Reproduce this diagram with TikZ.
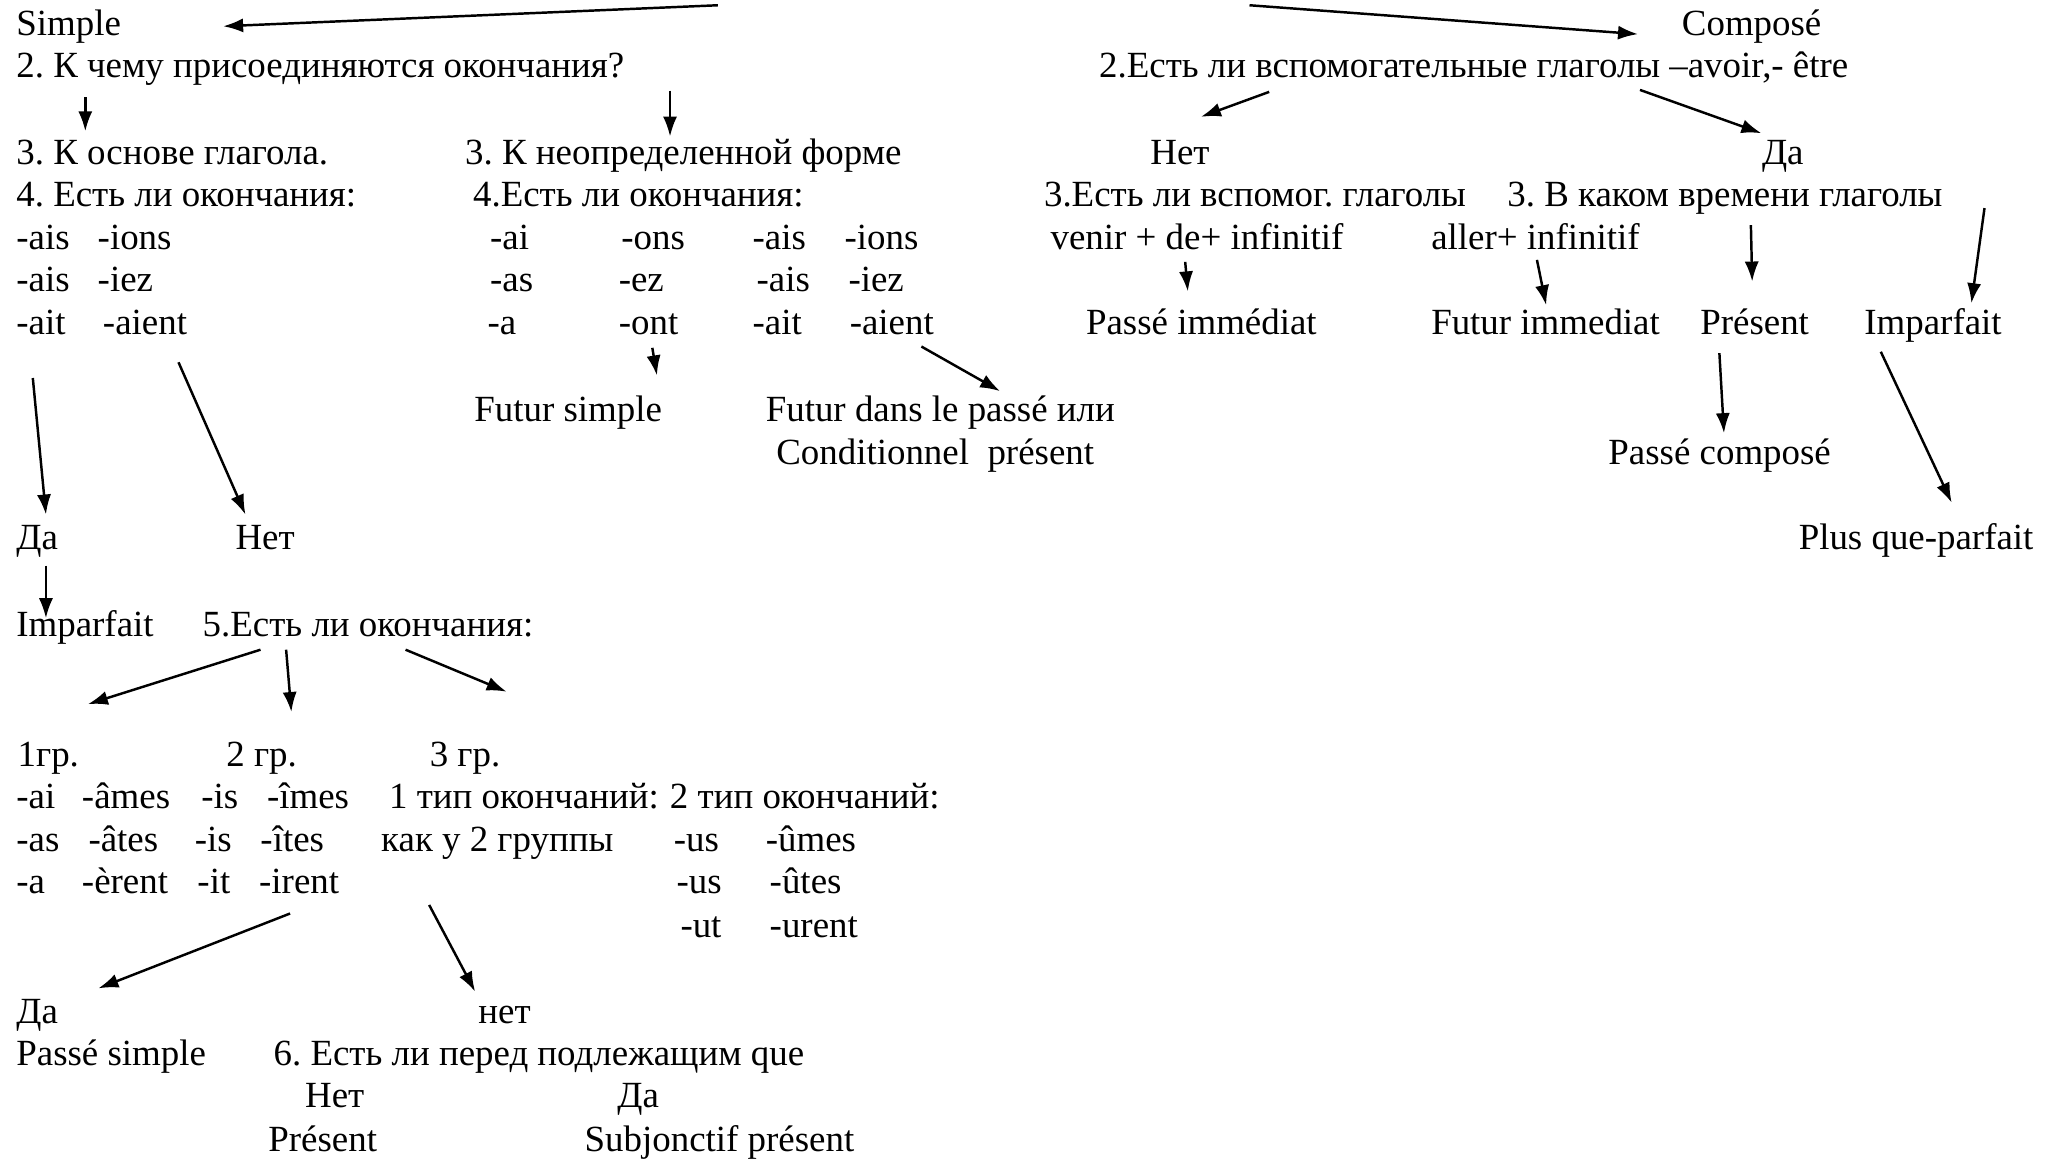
\documentclass[tikz,border=0pt]{standalone}
\usepackage{fontspec}
\setmainfont{Liberation Serif}
\usetikzlibrary{arrows, arrows.meta, calc, positioning}
\frenchspacing

\begin{document}
\begin{tikzpicture}[>={Latex[length=6.5pt,width=4.6pt]}, x=0.15mm, y=-0.15mm, font=\fontsize{12}{14}\selectfont,
    link/.style={->, line width=0.8pt}]

    \useasboundingbox (0,0) rectangle (1568,884);

    \coordinate (titleL) at (547,4);
    \coordinate (titleR) at (952,4);

    \begin{scope}[every node/.style={anchor=base west, inner sep=0pt}]
        \node (simple) at (12,27) {Simple};
        \node (join) at (12,59) {2. К чему присоединяются окончания?};
        \node (stem) at (12,125) {3. К основе глагола.};
        \node (infin) at (354,125) {3. К неопределенной форме};
        \node (endA) at (12,157) {4. Есть ли окончания:};
        \node (endB) at (360,157) {4.Есть ли окончания:};

        \node (ip11) at (12,190) {-ais};
        \node (ip12) at (74,190) {-ions};
        \node (ip21) at (12,222) {-ais};
        \node (ip22) at (74,222) {-iez};
        \node (ip31) at (12,255) {-ait};
        \node (ip32) at (78,255) {-aient};

        \node (fu11) at (373,190) {-ai};
        \node (fu12) at (473,190) {-ons};
        \node (fu13) at (573,190) {-ais};
        \node (fu14) at (643,190) {-ions};
        \node (fu21) at (373,222) {-as};
        \node (fu22) at (471,222) {-ez};
        \node (fu23) at (576,222) {-ais};
        \node (fu24) at (646,222) {-iez};
        \node (fu31) at (371,255) {-a};
        \node (fu32) at (471,255) {-ont};
        \node (fu33) at (573,255) {-ait};
        \node (fu34) at (647,255) {-aient};

        \node (futs) at (361,321) {Futur simple};
        \node (futp) at (583,321) {Futur dans le passé или};
        \node (cond) at (591,354) {Conditionnel\ \ présent};

        \node (yesA) at (12,419) {Да};
        \node (noA) at (179,419) {Нет};
        \node (impA) at (12,485) {Imparfait};
        \node (q5) at (154,485) {5.Есть ли окончания:};
        \node (gr1) at (13,584) {1гр.};
        \node (gr2) at (172,584) {2 гр.};
        \node (gr3) at (327,584) {3 гр.};

        \node (ps11) at (12,616) {-ai};
        \node (ps12) at (62,616) {-âmes};
        \node (ps13) at (153,616) {-is};
        \node (ps14) at (203,616) {-îmes};
        \node (typ1) at (296,616) {1 тип окончаний:};
        \node (typ2) at (510,616) {2 тип окончаний:};
        \node (ps21) at (12,649) {-as};
        \node (ps22) at (67,649) {-âtes};
        \node (ps23) at (148,649) {-is};
        \node (ps24) at (198,649) {-îtes};
        \node (like2) at (290,649) {как у 2 группы};
        \node (ty21) at (513,649) {-us};
        \node (ty22) at (583,649) {-ûmes};
        \node (ps31) at (12,681) {-a};
        \node (ps32) at (62,681) {-èrent};
        \node (ps33) at (150,681) {-it};
        \node (ps34) at (197,681) {-irent};
        \node (ty31) at (515,681) {-us};
        \node (ty32) at (586,681) {-ûtes};
        \node (ty41) at (518,714) {-ut};
        \node (ty42) at (586,714) {-urent};

        \node (yesB) at (12,780) {Да};
        \node (noB) at (364,780) {нет};
        \node (psimple) at (12,812) {Passé simple};
        \node (q6) at (208,812) {6. Есть ли перед подлежащим que};
        \node (noC) at (232,844) {Нет};
        \node (yesC) at (470,844) {Да};
        \node (presA) at (204,877) {Présent};
        \node (subj) at (445,877) {Subjonctif présent};

        \node (compose) at (1281,27) {Composé};
        \node (aux) at (837,59) {2.Есть ли вспомогательные глаголы –avoir,- être};
        \node (noR) at (876,125) {Нет};
        \node (yesR) at (1342,125) {Да};
        \node (auxB) at (795,157) {3.Есть ли вспомог. глаголы};
        \node (tense) at (1148,157) {3. В каком времени глаголы};
        \node (venir) at (800,190) {venir + de+ infinitif};
        \node (aller) at (1090,190) {aller+ infinitif};
        \node (pim) at (827,255) {Passé immédiat};
        \node (fim) at (1090,255) {Futur immediat};
        \node (presR) at (1295,255) {Présent};
        \node (impR) at (1420,255) {Imparfait};
        \node (pcomp) at (1225,354) {Passé composé};
        \node (pqp) at (1370,419) {Plus que-parfait};
    \end{scope}

    \draw[link] (titleL) -- ([shift={(158,-7)}] simple.base west);
    \draw[link] (titleR) -- ([shift={(-33,-1)}] compose.base west);

    \draw[link] ([shift={(53,15)}] join.base west) -- ([shift={(53,-25)}] stem.base west);
    \draw[link] ([shift={(498.5,10)}] join.base west) -- ([shift={(156.5,-21)}] infin.base west);
    \draw[link] ([shift={(26,10)}] fu32.base west) -- ([shift={(139.5,-35)}] futs.base west);
    \draw[link] ([shift={(55,9)}] fu34.base west) -- ([shift={(179,-23)}] futp.base west);

    \draw[link] ([shift={(13,33)}] ip31.base west) -- ([shift={(23,-27)}] yesA.base west);
    \draw[link] ([shift={(58,21)}] ip32.base west) -- ([shift={(8,-27)}] noA.base west);
    \draw[link] ([shift={(23,12)}] yesA.base west) -- ([shift={(23,-14)}] impA.base west);

    \draw[link] ([shift={(44.5,10)}] q5.base west) -- ([shift={(54,-47.5)}] gr1.base west);
    \draw[link] ([shift={(64,10)}] q5.base west) -- ([shift={(50,-41.5)}] gr2.base west);
    \draw[link] ([shift={(155,10)}] q5.base west) -- ([shift={(59,-57)}] gr3.base west);

    \draw[link] ([shift={(24,15)}] ps34.base west) -- ([shift={(63,-27)}] yesB.base west);
    \draw[link] ([shift={(37,40.5)}] like2.base west) -- ([shift={(-2,-24.5)}] noB.base west);

    \draw[link] ([shift={(130,11)}] aux.base west) -- ([shift={(39,-36)}] noR.base west);
    \draw[link] ([shift={(412.5,9.5)}] aux.base west) -- ([shift={(0,-23.5)}] yesR.base west);
    \draw[link] ([shift={(103,9.5)}] venir.base west) -- ([shift={(78,-33)}] pim.base west);
    \draw[link] ([shift={(81,8)}] aller.base west) -- ([shift={(88,-22.5)}] fim.base west);
    \draw[link] ([shift={(186,14.5)}] tense.base west) -- ([shift={(40,-40.5)}] presR.base west);
    \draw[link] ([shift={(364,1.5)}] tense.base west) -- ([shift={(82,-24)}] impR.base west);
    \draw[link] ([shift={(15,14)}] presR.base west) -- ([shift={(88.5,-24)}] pcomp.base west);
    \draw[link] ([shift={(13,13)}] impR.base west) -- ([shift={(117,-36)}] pqp.base west);

\end{tikzpicture}
\end{document}
